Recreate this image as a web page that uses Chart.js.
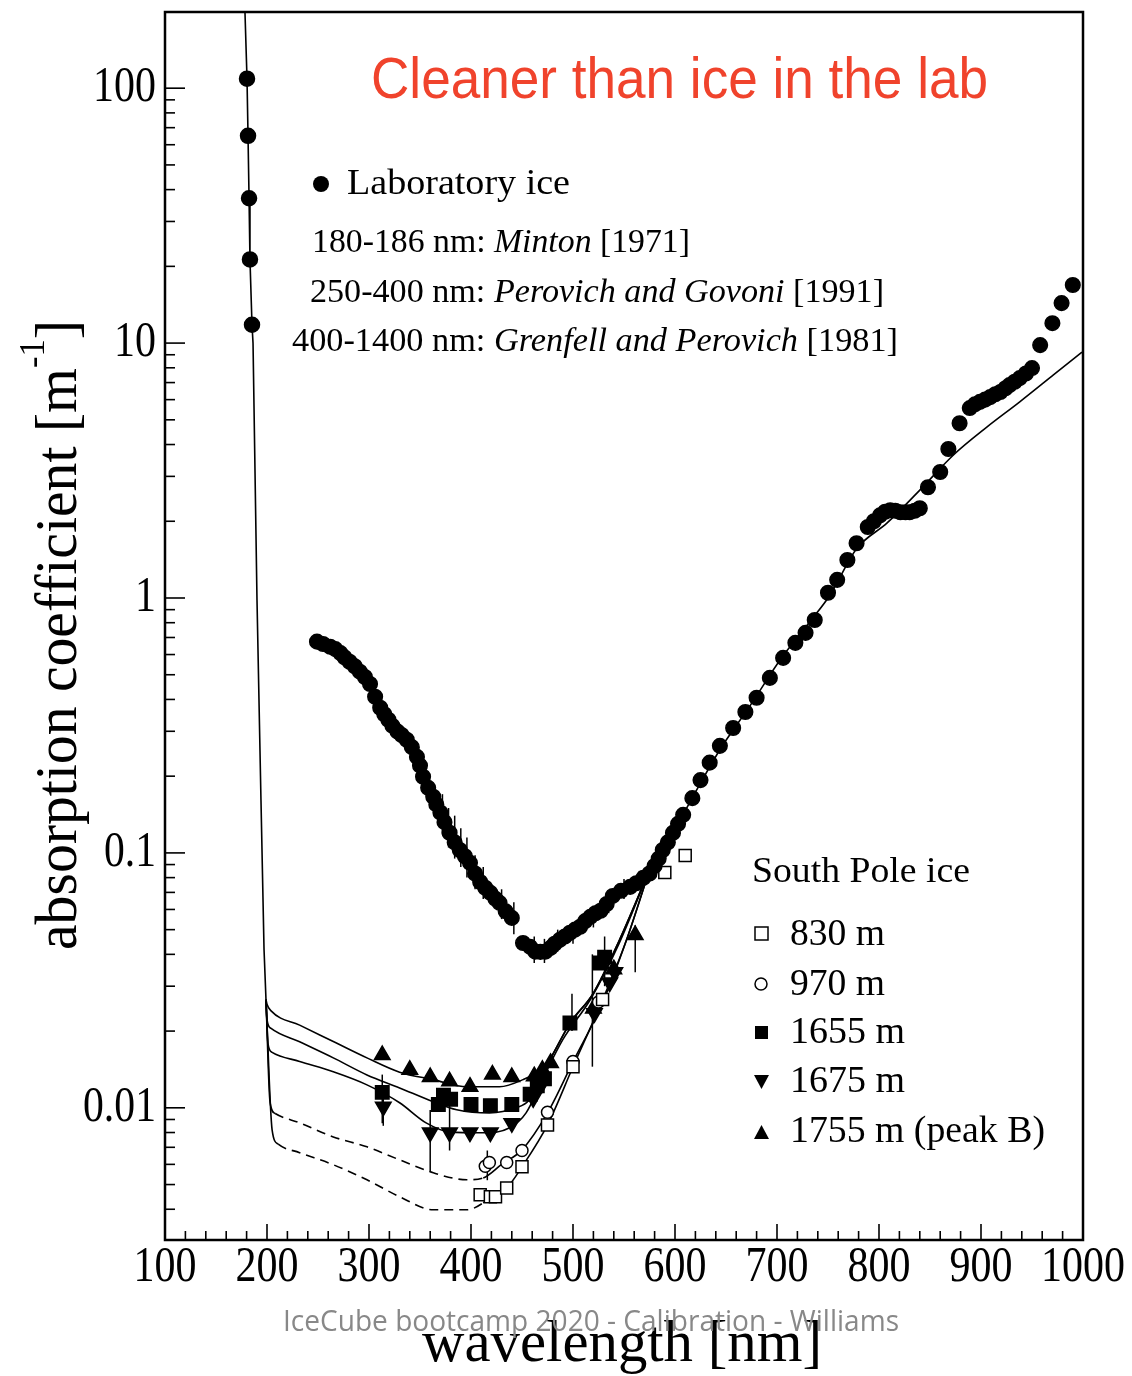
<!DOCTYPE html>
<html>
<head>
<meta charset="utf-8">
<script src="https://cdn.jsdelivr.net/npm/chart.js@4/dist/chart.umd.min.js"></script>
<style>
html,body{margin:0;padding:0;background:#fff}
#wrap{width:1132px;height:1376px}
</style>
</head>
<body>
<div id="wrap"><canvas id="c" width="1132" height="1376"></canvas></div>
<script>
// axis
const xTickValues = [100,200,300,400,500,600,700,800,900,1000];
const xTickLabels = ['100','200','300','400','500','600','700','800','900','1000'];
const yTickValues = [0.01,0.1,1,10,100];
const yTickLabels = ['0.01','0.1','1','10','100'];

// Laboratory ice (Minton 180-186 nm)
const mintonWl = [180.4,181.4,182.4,183.3,185.3];
const mintonAbs = [109,65,37,21.3,11.8];

// Laboratory ice 250-1000 nm
const labWl = [249,255,262,267,272,276,281,286,291,296,301,306,311,315,319,323,328,332,337,342,347,350,353,358,363,366,370,374,379,384,389,394,399,404,409,414,419,424,428,434,440,
  451,458,463,468,473,478,482,487,492,497,502,507,512,517,522,527,533,539,547,556,562,569,575,580,584,588,593,598,603,608,617,625,634,644,657,669,680,693,
  706,718,728,737,750,759,769,778,789,795,801,806,811,816,821,826,830,835,840,848,860,868,879,889,894,899,904,909,914,919,924,928,933,938,944,950,958,970,979,990];
const labAbs = [0.674,0.66,0.644,0.63,0.608,0.585,0.562,0.54,0.514,0.49,0.46,0.41,0.371,0.35,0.333,0.315,0.299,0.29,0.278,0.26,0.238,0.22,0.199,0.18,0.166,0.155,0.144,0.132,0.120,0.11,0.1027,0.097,0.0914,0.083,0.0769,0.073,0.0697,0.066,0.0637,0.059,0.0556,
  0.0443,0.0428,0.041,0.0409,0.041,0.0424,0.044,0.0456,0.047,0.0486,0.05,0.0513,0.054,0.0561,0.058,0.0593,0.063,0.0678,0.071,0.0736,0.076,0.0798,0.083,0.0889,0.095,0.1027,0.11,0.1198,0.13,0.141,0.164,0.193,0.226,0.263,0.309,0.357,0.406,0.486,
  0.582,0.667,0.730,0.820,1.048,1.178,1.41,1.64,1.90,2.0,2.11,2.18,2.21,2.2,2.17,2.17,2.17,2.2,2.25,2.72,3.12,3.84,4.85,5.56,5.75,5.88,6.0,6.14,6.3,6.43,6.65,6.84,7.05,7.29,7.6,7.98,9.82,11.97,14.35,16.9];
// error bars [wl, low, high]
const labErr = [[372,0.118,0.17],[378,0.105,0.15],[384,0.095,0.14],[390,0.088,0.125],[396,0.08,0.115],[404,0.072,0.098],
  [412,0.066,0.088],[430,0.055,0.072],[442,0.048,0.064],[462,0.037,0.047],[472,0.037,0.046],[485,0.041,0.05],[500,0.044,0.053],
  [520,0.051,0.062],[535,0.058,0.07],[550,0.066,0.079],[565,0.072,0.085]];

// model curves
const steepWl = [178.4,180.4,181.4,182.4,183.3,185.3,186.3,190.2,194.1,197.1,199.0];
const steepAbs = [199,109,65,37,21.3,11.8,10,0.98,0.161,0.0417,0.0266];
const fit1755Wl = [200,204,232,265,298,330,363,396,428,451,468,477,497,520,545,575];
const fit1755Abs = [0.0255,0.0240,0.0211,0.0182,0.0157,0.0138,0.0129,0.0121,0.0121,0.0129,0.0141,0.0155,0.0214,0.0282,0.045,0.0857];
const fit1655Wl = [200,204,232,265,298,330,363,386,418,444,457,476,497,520,545,575];
const fit1655Abs = [0.0222,0.0205,0.01815,0.0157,0.01346,0.01197,0.01056,0.00983,0.00955,0.0100,0.01074,0.0150,0.0215,0.0282,0.045,0.0857];
const fit1675Wl = [201,205,232,265,298,330,356,379,411,438,454,470,490,517,545,575];
const fit1675Abs = [0.0178,0.0165,0.0152,0.01384,0.0123,0.01047,0.00873,0.00805,0.00798,0.00835,0.00955,0.0129,0.0185,0.0266,0.044,0.0857];
const fit970Wl = [203,208,232,265,298,330,363,396,412,430,450,475,500,529,552,575];
const fit970Abs = [0.0105,0.0095,0.00873,0.00769,0.00703,0.00625,0.00556,0.00522,0.00531,0.0060,0.00684,0.00955,0.01514,0.0258,0.045,0.0857];
const fit830Wl = [205,211,232,265,298,330,363,396,412,419,435,450,475,500,529,552,575];
const fit830Abs = [0.0082,0.0072,0.00667,0.00598,0.00522,0.00448,0.00398,0.00398,0.00424,0.00448,0.00485,0.00587,0.00857,0.01449,0.0265,0.045,0.0857];
const tailWl = [575,585,605,625,644,674,703,732,752,778,808,840,873,906,938,971,999];
const tailAbs = [0.0857,0.0955,0.1346,0.188,0.254,0.380,0.571,0.805,1.028,1.56,1.97,2.65,3.64,4.69,5.88,7.50,9.22];

// South Pole ice data
const d830Wl = [409,419,424,435,450,475,500,529,590,610];
const d830Abs = [0.00456,0.00448,0.00448,0.00485,0.00587,0.00857,0.0145,0.0266,0.0838,0.0977];
const d970Wl = [414,418,435,450,475,500,525];
const d970Abs = [0.0059,0.0061,0.0061,0.0068,0.0096,0.0152,0.026];
const d1655Wl = [313,368,373,380,400,419,440,458,465,472,497,526,531];
const d1655Abs = [0.0115,0.0103,0.0112,0.0108,0.0103,0.0102,0.0103,0.0113,0.0122,0.013,0.0215,0.037,0.039];
const d1675Wl = [314,360,379,399,419,440,461,470,521,536,541];
const d1675Abs = [0.0101,0.0080,0.0080,0.0080,0.0080,0.0087,0.0109,0.0125,0.0235,0.031,0.034];
const d1755Wl = [313,340,360,379,399,421,440,462,470,478,520,540,561];
const d1755Abs = [0.0161,0.0141,0.0132,0.0127,0.0121,0.0135,0.0132,0.0133,0.0141,0.015,0.0245,0.035,0.0476];
const spErr = [[313,0.0087,0.0135],[314,0.0085,0.0115],[360,0.0056,0.0098],[379,0.0068,0.0105],[416,0.0052,0.0068],
  [499,0.020,0.028],[519,0.0145,0.040],[561,0.034,0.052],[531,0.030,0.047]];

const pts = (xs, ys) => xs.map((x,i)=>({x:x, y:ys[i]}));
const steepEnd = {x: steepWl[steepWl.length-1], y: steepAbs[steepAbs.length-1]};
const fitLine = (xs, ys, dashed) => ({
  data: [steepEnd].concat(pts(xs, ys)), showLine: true, borderColor: '#000', borderWidth: 1.6,
  pointRadius: 0, cubicInterpolationMode: 'monotone', order: 5,
  segment: dashed ? {borderDash: c => (c.p0.parsed.x >= 208 && c.p1.parsed.x <= 416) ? [9,6] : undefined} : {}
});
const markers = (xs, ys, style, r, fill, rot) => ({
  data: pts(xs, ys), showLine: false, pointStyle: style, pointRadius: r, pointRotation: rot || 0,
  pointBackgroundColor: fill, pointBorderColor: '#000', pointBorderWidth: 1.5, order: 1
});

function drawFit(ctx, segs, x, y, width, size, family, color, align, weight) {
  let total = 0;
  const w0 = weight ? weight + ' ' : '';
  segs.forEach(s => {
    const sz = s.sup ? size*0.6 : size;
    ctx.font = (s.it ? 'italic ' : '') + w0 + sz + 'px ' + family;
    s.w = ctx.measureText(s.t).width; total += s.w;
  });
  const sx = width ? width / total : 1;
  ctx.save();
  ctx.translate(x, y);
  ctx.scale(sx, 1);
  let px = align === 'center' ? -total/2 : (align === 'right' ? -total : 0);
  ctx.fillStyle = color; ctx.textBaseline = 'middle'; ctx.textAlign = 'left';
  segs.forEach(s => {
    const sz = s.sup ? size*0.6 : size;
    ctx.font = (s.it ? 'italic ' : '') + w0 + sz + 'px ' + family;
    ctx.fillText(s.t, px, s.sup ? -size*0.42 : 0);
    px += s.w;
  });
  ctx.restore();
}

const errPlugin = {
  id: 'errbars',
  beforeDatasetsDraw(chart) {
    const ctx = chart.ctx, xs = chart.scales.x, ys = chart.scales.y;
    ctx.save();
    ctx.strokeStyle = '#000'; ctx.lineWidth = 1.5;
    labErr.concat(spErr).forEach(e => {
      const px = xs.getPixelForValue(e[0]);
      ctx.beginPath(); ctx.moveTo(px, ys.getPixelForValue(e[1])); ctx.lineTo(px, ys.getPixelForValue(e[2])); ctx.stroke();
    });
    ctx.restore();
  }
};

const decoPlugin = {
  id: 'deco',
  beforeDraw(chart) {
    const ctx = chart.ctx;
    ctx.save(); ctx.fillStyle = '#fff'; ctx.fillRect(0, 0, chart.width, chart.height); ctx.restore();
  },
  afterDraw(chart) {
    const ctx = chart.ctx, a = chart.chartArea, xs = chart.scales.x, ys = chart.scales.y;
    const serif = '"Liberation Serif", "Times New Roman", serif';
    ctx.save();
    ctx.strokeStyle = '#000';
    ctx.lineWidth = 2.5;
    ctx.strokeRect(a.left, a.top, a.right - a.left, a.bottom - a.top);
    ctx.lineWidth = 1.6;
    // y ticks (inside, left axis)
    for (let d = -3; d <= 2; d++) {
      for (let m = 1; m <= 9; m++) {
        const v = m * Math.pow(10, d);
        if (v < ys.min || v > ys.max) continue;
        const py = ys.getPixelForValue(v);
        const len = m === 1 ? 20 : 10;
        ctx.beginPath(); ctx.moveTo(a.left, py); ctx.lineTo(a.left + len, py); ctx.stroke();
      }
    }
    // x ticks (inside, bottom axis)
    for (let v = 100; v <= 1000; v += 20) {
      const px = xs.getPixelForValue(v);
      const len = v % 100 === 0 ? 16 : 9;
      ctx.beginPath(); ctx.moveTo(px, a.bottom); ctx.lineTo(px, a.bottom - len); ctx.stroke();
    }
    // tick labels
    xTickValues.forEach((v, i) => {
      drawFit(ctx, [{t: xTickLabels[i]}], xs.getPixelForValue(v), 1268, 21 * xTickLabels[i].length, 50, serif, '#000', 'center');
    });
    yTickValues.forEach((v, i) => {
      const w = yTickLabels[i].replace('.', '').length * 21 + (yTickLabels[i].includes('.') ? 10 : 0);
      drawFit(ctx, [{t: yTickLabels[i]}], 156, ys.getPixelForValue(v), w, 50, serif, '#000', 'right');
    });
    // axis titles
    drawFit(ctx, [{t: 'wavelength [nm]'}], 622, 1345, 400, 60, serif, '#000', 'center');
    ctx.save();
    ctx.translate(60, 635);
    ctx.rotate(-Math.PI / 2);
    drawFit(ctx, [{t: 'absorption coefficient [m'}, {t: '-1', sup: true}, {t: ']'}], 0, 0, 630, 60, serif, '#000', 'center');
    ctx.restore();
    // title
    drawFit(ctx, [{t: 'Cleaner than ice in the lab'}], 371, 82, 617, 58, '"Liberation Sans", Arial, sans-serif', '#f0432c', 'left');
    // lab legend
    ctx.fillStyle = '#000';
    ctx.beginPath(); ctx.arc(321, 184, 8, 0, Math.PI * 2); ctx.fill();
    drawFit(ctx, [{t: 'Laboratory ice'}], 347, 185, 223, 36, serif, '#000', 'left');
    drawFit(ctx, [{t: '180-186 nm: '}, {t: 'Minton', it: true}, {t: ' [1971]'}], 312, 243, 378, 33, serif, '#000', 'left');
    drawFit(ctx, [{t: '250-400 nm: '}, {t: 'Perovich and Govoni', it: true}, {t: ' [1991]'}], 310, 293, 574, 33, serif, '#000', 'left');
    drawFit(ctx, [{t: '400-1400 nm: '}, {t: 'Grenfell and Perovich', it: true}, {t: ' [1981]'}], 292, 342, 606, 33, serif, '#000', 'left');
    // South Pole legend
    drawFit(ctx, [{t: 'South Pole ice'}], 752, 873, 218, 36, serif, '#000', 'left');
    const ent = [['830 m', 935, 95], ['970 m', 985, 95], ['1655 m', 1033, 115], ['1675 m', 1082, 115], ['1755 m (peak B)', 1132, 255]];
    ent.forEach(e => drawFit(ctx, [{t: e[0]}], 790, e[1], e[2], 38, serif, '#000', 'left'));
    ctx.lineWidth = 1.5;
    ctx.strokeStyle = '#000';
    ctx.fillStyle = '#fff';
    ctx.fillRect(755, 927, 13, 13); ctx.strokeRect(755, 927, 13, 13);
    ctx.beginPath(); ctx.arc(761, 984, 6, 0, Math.PI * 2); ctx.fill(); ctx.stroke();
    ctx.fillStyle = '#000';
    ctx.fillRect(755, 1026, 13, 13);
    ctx.beginPath(); ctx.moveTo(754, 1075); ctx.lineTo(769, 1075); ctx.lineTo(761.5, 1089); ctx.closePath(); ctx.fill();
    ctx.beginPath(); ctx.moveTo(754, 1139); ctx.lineTo(769, 1139); ctx.lineTo(761.5, 1125); ctx.closePath(); ctx.fill();
    // footer
    drawFit(ctx, [{t: 'IceCube bootcamp 2020 - Calibration - Williams'}], 283, 1322, 616, 30, '"Open Sans", "Liberation Sans", sans-serif', '#888', 'left');
    ctx.restore();
  }
};

new Chart(document.getElementById('c'), {
  type: 'scatter',
  data: {
    datasets: [
      {data: pts(steepWl, steepAbs), showLine: true, borderColor: '#000', borderWidth: 1.6, pointRadius: 0, order: 5},
      fitLine(fit1755Wl, fit1755Abs, false),
      fitLine(fit1655Wl, fit1655Abs, false),
      fitLine(fit1675Wl, fit1675Abs, false),
      fitLine(fit970Wl, fit970Abs, true),
      fitLine(fit830Wl, fit830Abs, true),
      {data: pts(tailWl, tailAbs), showLine: true, borderColor: '#000', borderWidth: 1.6, pointRadius: 0, cubicInterpolationMode: 'monotone', order: 5},
      markers(mintonWl, mintonAbs, 'circle', 7.5, '#000'),
      markers(labWl, labAbs, 'circle', 7.3, '#000'),
      markers(d830Wl, d830Abs, 'rect', 8.5, '#fff'),
      markers(d970Wl, d970Abs, 'circle', 6, '#fff'),
      markers(d1655Wl, d1655Abs, 'rect', 9.5, '#000'),
      markers(d1675Wl, d1675Abs, 'triangle', 9, '#000', 180),
      markers(d1755Wl, d1755Abs, 'triangle', 9, '#000')
    ]
  },
  options: {
    responsive: false,
    animation: false,
    devicePixelRatio: 1,
    layout: {padding: {left: 165, top: 12, right: 49, bottom: 136}},
    plugins: {legend: {display: false}, tooltip: {enabled: false}},
    scales: {
      x: {type: 'linear', min: 100, max: 1000, display: false},
      y: {type: 'logarithmic', min: 0.00303, max: 199, display: false}
    }
  },
  plugins: [errPlugin, decoPlugin]
});
</script>
</body>
</html>
